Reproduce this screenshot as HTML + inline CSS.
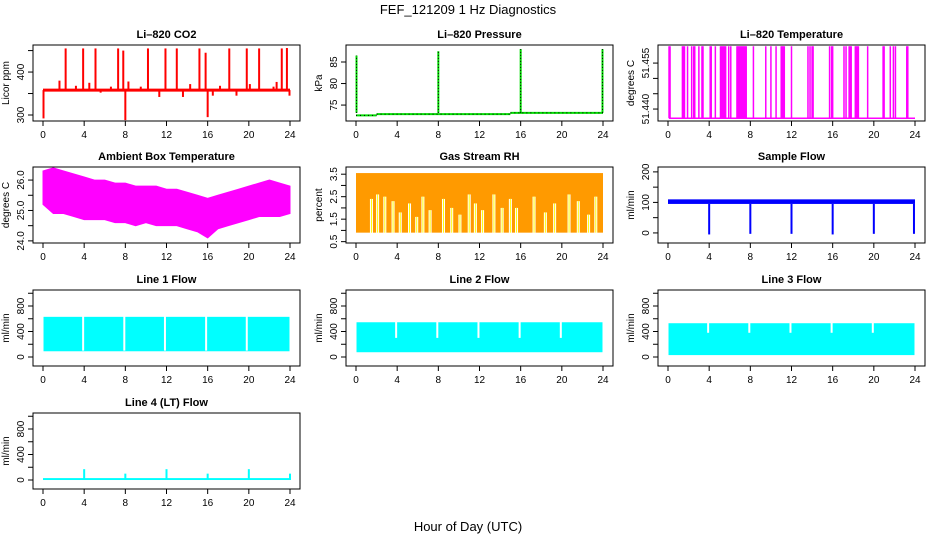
<!DOCTYPE html>
<html><head><meta charset="utf-8"><style>
html,body{margin:0;padding:0;background:#fff;}
svg{display:block;font-family:"Liberation Sans",sans-serif;}
</style></head><body>
<svg id="chart" width="936" height="540" viewBox="0 0 936 540">
<text x="468" y="14" text-anchor="middle" font-size="13">FEF_121209  1 Hz Diagnostics</text>
<text x="468" y="531" text-anchor="middle" font-size="13">Hour of Day (UTC)</text>
</svg>
<script>
// ---------- data ----------
const hourTicks = [0,4,8,12,16,20,24];
// CO2
const co2Base = 358;
const co2SpikeHours = [0.05,1.6,2.2,3.2,3.9,4.5,5.1,5.6,6.6,7.3,7.8,8.0,8.3,9.5,10.2,11.3,11.9,13.0,13.6,14.3,15.2,15.8,16.0,16.5,17.2,18.1,18.8,19.8,20.1,21.0,22.4,22.7,23.2,23.7,23.95];
const co2SpikeValues = [292,380,455,368,455,375,455,352,366,455,450,288,378,366,455,342,455,455,342,372,455,445,295,345,368,455,345,455,372,455,366,377,455,456,345];
// Pressure
const presStepHours = [0,2,15,24];
const presStepValues = [72.6,72.9,73.2,73.2];
const presSpikeHours = [0.05,8.0,16.0,23.95];
const presSpikeValues = [86.5,87.5,88.0,88.0];
// Li-820 temperature
const tempLow = 51.437, tempHigh = 51.4605;
const tempSwitchHours = [0.1,0.2,1.4,1.5,1.6,1.9,2.3,2.5,2.6,3.0,3.3,3.4,4.1,4.2,4.6,5.1,5.2,5.3,5.4,5.5,5.6,5.9,6.1,6.7,6.8,6.9,7.0,7.1,7.2,7.3,7.4,7.5,7.6,8.3,9.5,10.0,10.5,11.0,11.1,11.2,11.3,12.0,13.6,13.8,14.0,14.1,15.7,15.9,16.0,17.1,17.3,17.6,17.7,17.8,18.2,18.3,18.4,18.5,19.4,20.9,21.0,21.6,21.9,22.1,23.2,23.3];
// Ambient box temperature envelope
const ambHours = [0,1,2,3,4,5,6,7,8,9,10,11,12,13,14,15,16,17,18,19,20,21,22,23,24];
const ambUpper = [26.3,26.4,26.3,26.2,26.1,26.0,26.0,25.9,25.9,25.8,25.8,25.8,25.7,25.7,25.6,25.5,25.4,25.5,25.6,25.7,25.8,25.9,26.0,25.9,25.8];
const ambLower = [25.2,24.9,24.9,24.8,24.7,24.7,24.7,24.6,24.6,24.5,24.6,24.5,24.5,24.5,24.4,24.3,24.1,24.4,24.5,24.6,24.7,24.8,24.8,24.8,24.9];
// Gas stream RH
const rhUpper = 3.55, rhLower = 0.9;
const rhGapHours = [1.5,2.1,2.8,3.6,4.3,5.2,5.9,6.5,7.2,8.5,9.3,10.1,11.0,11.6,12.3,13.4,14.2,15.0,15.6,17.3,18.4,19.3,20.7,21.6,22.6,23.3];
const rhGapTops = [2.4,2.6,2.5,2.3,1.8,2.2,1.6,2.5,1.9,2.4,2.0,1.7,2.6,2.2,1.9,2.6,2.0,2.4,2.0,2.5,1.8,2.2,2.6,2.3,1.7,2.5];
// Sample flow
const sfUpper = 110, sfLower = 95;
const sfDipHours = [4,8,12,16,20,23.9];
const sfDipValues = [-5,-3,-3,-5,-3,-3];
// Line flows
const l1Upper = 630, l1Lower = 90;
const l1GapHours = [3.9,7.9,11.85,15.85,19.8];
const l2Upper = 545, l2Lower = 75;
const l2GapHours = [3.9,7.9,11.9,15.9,19.9];
const l3Upper = 530, l3Lower = 30;
const l3GapHours = [3.9,7.9,11.9,15.9,19.9];
const l4Base = 15;
const l4SpikeHours = [4,8,12,16,20,24];
const l4SpikeValues = [170,100,170,100,170,100];

// ---------- layout ----------
const svg = document.getElementById('chart');
const NS = 'http://www.w3.org/2000/svg';
const colLeft = [33,346,658];
const rowTop = [45,167,290,413];
const boxW = 267, boxH = 76;
function mk(tag, attrs, parent){const e=document.createElementNS(NS,tag);for(const k in attrs)e.setAttribute(k,attrs[k]);(parent||svg).appendChild(e);return e;}

function panel(name, col, row, title, ylab, yMin, yMax, yTicks, yLabels){
  const g = mk('g',{});
  
  
  const x0 = colLeft[col], y0 = rowTop[row];
  const xs = h => x0 + 10 + h/24*247;
  const ys = v => y0 + boxH - (v - yMin)/(yMax - yMin)*boxH;
  const p = {g, xs, ys, x0, y0};
  const plot = mk('g',{},g);
  
  
  p.plot = plot;
  p.finish = function(){
    const box = mk('rect',{x:x0,y:y0,width:boxW,height:boxH,fill:'none',stroke:'#000','stroke-width':1},g);
    
    
    const t = mk('text',{x:x0+boxW/2,y:y0-7,'text-anchor':'middle','font-size':11,'font-weight':'bold'},g);
    t.textContent = title;
    
    
    const xa = mk('g',{},g);
    
    
    const yb = y0 + boxH;
    mk('line',{x1:xs(0),x2:xs(24),y1:yb,y2:yb,stroke:'#000'},xa);
    hourTicks.forEach(h=>{
      mk('line',{x1:xs(h),x2:xs(h),y1:yb,y2:yb+5,stroke:'#000'},xa);
      const l = mk('text',{x:xs(h),y:yb+17,'text-anchor':'middle','font-size':10},xa);
      l.textContent = h;
    });
    const ya = mk('g',{},g);
    
    
    mk('line',{x1:x0,x2:x0,y1:ys(yTicks[0]),y2:ys(yTicks[yTicks.length-1]),stroke:'#000'},ya);
    yTicks.forEach(v=>mk('line',{x1:x0-5,x2:x0,y1:ys(v),y2:ys(v),stroke:'#000'},ya));
    yLabels.forEach(v=>{
      const l = mk('text',{x:x0-9,y:ys(v.v),'text-anchor':'middle','font-size':10,transform:`rotate(-90 ${x0-9} ${ys(v.v)})`},ya);
      l.textContent = v.label;
    });
    const yl = mk('text',{x:x0-24,y:y0+boxH/2,'text-anchor':'middle','font-size':10,transform:`rotate(-90 ${x0-24} ${y0+boxH/2})`},g);
    yl.textContent = ylab;
    
    
  };
  return p;
}
const L = (v,label)=>({v,label});

// ---- CO2 ----
let p = panel('co2-panel',0,0,'Li\u2013820 CO2','Licor ppm',286,463,[300,350,400,450],[L(300,'300'),L(400,'400')]);
co2SpikeHours.forEach((h,i)=>mk('line',{x1:p.xs(h),x2:p.xs(h),y1:p.ys(co2Base),y2:p.ys(co2SpikeValues[i]),stroke:'#ff0000','stroke-width':2},p.plot));
mk('line',{x1:p.xs(0),x2:p.xs(24),y1:p.ys(co2Base),y2:p.ys(co2Base),stroke:'#ff0000','stroke-width':3},p.plot);
p.finish();

// ---- Pressure ----
p = panel('pressure-panel',1,0,'Li\u2013820 Pressure','kPa',71.3,88.95,[75,80,85],[L(75,'75'),L(80,'80'),L(85,'85')]);
for(let i=0;i<presStepHours.length-1;i++){
  mk('line',{x1:p.xs(presStepHours[i]),x2:p.xs(presStepHours[i+1]),y1:p.ys(presStepValues[i]),y2:p.ys(presStepValues[i]),stroke:'#00dd00','stroke-width':2},p.plot);
  mk('line',{x1:p.xs(presStepHours[i]),x2:p.xs(presStepHours[i+1]),y1:p.ys(presStepValues[i]),y2:p.ys(presStepValues[i]),stroke:'#000','stroke-width':1,'stroke-dasharray':'1 3'},p.plot);
}
presSpikeHours.forEach((h,i)=>{
  mk('line',{x1:p.xs(h),x2:p.xs(h),y1:p.ys(presStepValues[2]),y2:p.ys(presSpikeValues[i]),stroke:'#00dd00','stroke-width':2},p.plot);
  mk('line',{x1:p.xs(h),x2:p.xs(h),y1:p.ys(presStepValues[2]),y2:p.ys(presSpikeValues[i]),stroke:'#000','stroke-width':1,'stroke-dasharray':'1 2'},p.plot);
});
p.finish();

// ---- Li-820 temp ----
p = panel('li820-temp-panel',2,0,'Li\u2013820 Temperature','degrees C',51.4361,51.4609,[51.440,51.445,51.450,51.455],[L(51.440,'51.440'),L(51.455,'51.455')]);
mk('line',{x1:p.xs(0.1),x2:p.xs(24),y1:p.ys(tempLow),y2:p.ys(tempLow),stroke:'#ff00ff','stroke-width':1.5},p.plot);
tempSwitchHours.forEach(h=>mk('line',{x1:p.xs(h),x2:p.xs(h),y1:p.ys(tempLow),y2:p.ys(tempHigh),stroke:'#ff00ff','stroke-width':1.5},p.plot));
p.finish();

// ---- Ambient ----
p = panel('ambient-temp-panel',0,1,'Ambient Box Temperature','degrees C',23.93,26.43,[24,24.5,25,25.5,26],[L(24,'24.0'),L(25,'25.0'),L(26,'26.0')]);
{
  let d = ambHours.map((h,i)=>`${i?'L':'M'}${p.xs(h)},${p.ys(ambUpper[i])}`).join('');
  for(let i=ambHours.length-1;i>=0;i--) d += `L${p.xs(ambHours[i])},${p.ys(ambLower[i])}`;
  mk('path',{d:d+'Z',fill:'#ff00ff',stroke:'#ff00ff','stroke-width':1},p.plot);
}
p.finish();

// ---- RH ----
p = panel('rh-panel',1,1,'Gas Stream RH','percent',0.44,3.82,[0.5,1,1.5,2,2.5,3,3.5],[L(0.5,'0.5'),L(1.5,'1.5'),L(2.5,'2.5'),L(3.5,'3.5')]);
mk('rect',{x:p.xs(0),y:p.ys(rhUpper),width:p.xs(24)-p.xs(0),height:p.ys(rhLower)-p.ys(rhUpper),fill:'#ff9a00'},p.plot);
rhGapHours.forEach((h,i)=>{
  mk('rect',{x:p.xs(h)-1.5,y:p.ys(rhGapTops[i]),width:3,height:p.ys(rhLower)-p.ys(rhGapTops[i])+1,fill:'#fff'},p.plot);
  mk('line',{x1:p.xs(h),x2:p.xs(h),y1:p.ys(rhGapTops[i]),y2:p.ys(rhLower),stroke:'#ffff00','stroke-width':1},p.plot);
});
p.finish();

// ---- Sample flow ----
p = panel('sample-flow-panel',2,1,'Sample Flow','ml/min',-33,216,[0,50,100,150,200],[L(0,'0'),L(100,'100'),L(200,'200')]);
mk('rect',{x:p.xs(0),y:p.ys(sfUpper),width:p.xs(24)-p.xs(0),height:p.ys(sfLower)-p.ys(sfUpper),fill:'#0000ff'},p.plot);
sfDipHours.forEach((h,i)=>mk('line',{x1:p.xs(h),x2:p.xs(h),y1:p.ys(sfLower),y2:p.ys(sfDipValues[i]),stroke:'#0000ff','stroke-width':2},p.plot));
p.finish();

// ---- Line flows ----
function flowPanel(name,col,row,title,up,lo,gaps,gapBottom){
  const q = panel(name,col,row,title,'ml/min',-141,1051,[0,200,400,600,800,1000],[L(0,'0'),L(400,'400'),L(800,'800')]);
  mk('rect',{x:q.xs(0.05),y:q.ys(up),width:q.xs(23.95)-q.xs(0.05),height:q.ys(lo)-q.ys(up),fill:'#00ffff'},q.plot);
  gaps.forEach(h=>mk('rect',{x:q.xs(h)-1,y:q.ys(up)-1,width:2,height:q.ys(gapBottom)-q.ys(up)+1,fill:'#fff'},q.plot));
  q.finish();
  return q;
}
flowPanel('line1-flow-panel',0,2,'Line 1 Flow',l1Upper,l1Lower,l1GapHours,100);
flowPanel('line2-flow-panel',1,2,'Line 2 Flow',l2Upper,l2Lower,l2GapHours,300);
flowPanel('line3-flow-panel',2,2,'Line 3 Flow',l3Upper,l3Lower,l3GapHours,380);

p = panel('line4-flow-panel',0,3,'Line 4 (LT) Flow','ml/min',-141,1051,[0,200,400,600,800,1000],[L(0,'0'),L(400,'400'),L(800,'800')]);
mk('rect',{x:p.xs(0),y:p.ys(l4Base+15),width:p.xs(24)-p.xs(0),height:p.ys(0)-p.ys(l4Base+15),fill:'#00ffff'},p.plot);
l4SpikeHours.forEach((h,i)=>mk('line',{x1:p.xs(h),x2:p.xs(h),y1:p.ys(0),y2:p.ys(l4SpikeValues[i]),stroke:'#00ffff','stroke-width':2},p.plot));
p.finish();
</script>
</body></html>
